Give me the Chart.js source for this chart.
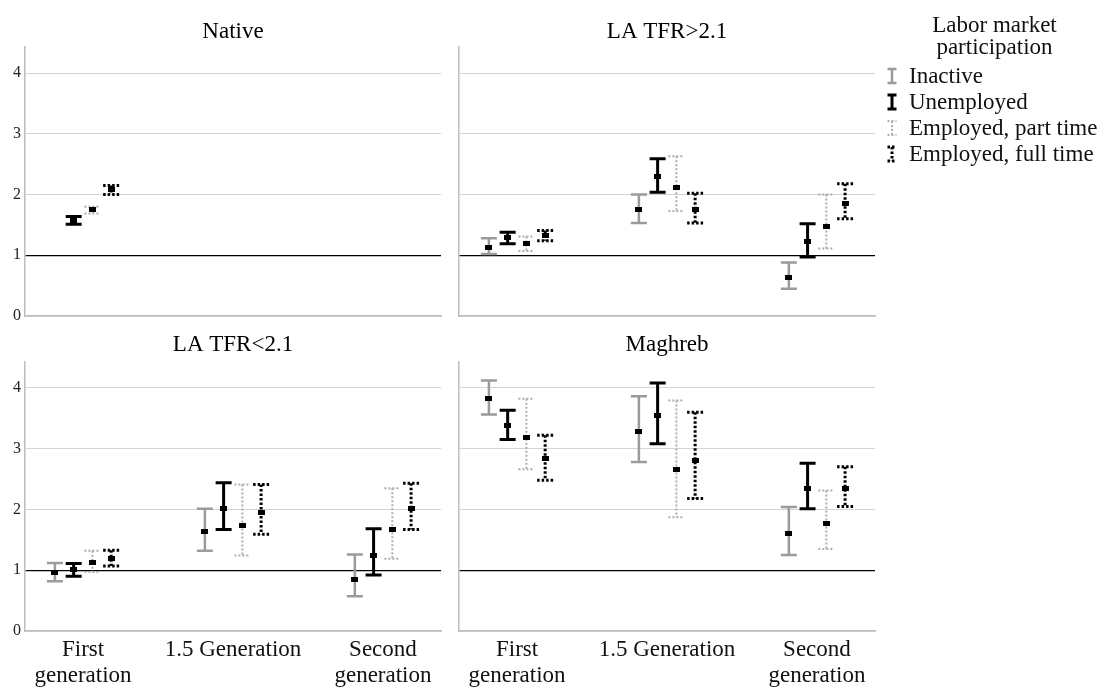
<!DOCTYPE html>
<html>
<head>
    <title>Labor market participation</title>
    <script src="https://cdn.jsdelivr.net/npm/chart.js"></script>
    <style>
        body { margin: 0; background: #fff; font-family: "Liberation Serif", serif; }
        #wrap { position: relative; width: 1105px; height: 688px; overflow: hidden; }
        canvas.panel { position: absolute; }
        #legend { position: absolute; left: 884px; top: 14px; width: 221px; color: #111; font-size: 23px; }
        #legend .head { text-align: center; line-height: 22px; margin-bottom: 5px; }
        #legend .item { display: flex; align-items: center; height: 26px; white-space: nowrap; }
        #legend .item canvas { margin-left: 2px; margin-right: 11px; }
    </style>
</head>
<body>
<div id="wrap">
    <canvas class="panel" id="p0" width="450" height="330" style="left:0;top:0"></canvas>
    <canvas class="panel" id="p1" width="440" height="330" style="left:445px;top:0"></canvas>
    <canvas class="panel" id="p2" width="450" height="368" style="left:0;top:320px"></canvas>
    <canvas class="panel" id="p3" width="440" height="368" style="left:445px;top:320px"></canvas>
    <div id="legend">
        <div class="head">Labor market<br>participation</div>
    </div>
</div>

<script>
    // categories
    const groups = ['Native', 'LA TFR>2.1', 'LA TFR<2.1', 'Maghreb'];
    const generations = [['First', 'generation'], '1.5 Generation', ['Second', 'generation']];
    const series = ['Inactive', 'Unemployed', 'Employed, part time', 'Employed, full time'];

    // rows = series (Inactive, Unemployed, part time, full time), cols = generations
    const nativeMean = [[null, null, null], [1.58, null, null], [1.75, null, null], [2.08, null, null]];
    const nativeLow  = [[null, null, null], [1.51, null, null], [1.69, null, null], [2.00, null, null]];
    const nativeHigh = [[null, null, null], [1.64, null, null], [1.80, null, null], [2.15, null, null]];

    const laHighMean = [[1.13, 1.75, 0.63], [1.29, 2.30, 1.22], [1.19, 2.12, 1.48], [1.33, 1.76, 1.86]];
    const laHighLow  = [[1.02, 1.53, 0.45], [1.19, 2.04, 0.97], [1.07, 1.73, 1.11], [1.24, 1.53, 1.60]];
    const laHighHigh = [[1.28, 2.00, 0.88], [1.38, 2.59, 1.52], [1.31, 2.63, 2.00], [1.41, 2.02, 2.18]];

    const laLowMean = [[0.96, 1.63, 0.85], [1.01, 2.01, 1.24], [1.13, 1.73, 1.67], [1.20, 1.95, 2.01]];
    const laLowLow  = [[0.82, 1.32, 0.57], [0.90, 1.67, 0.92], [0.97, 1.24, 1.19], [1.07, 1.59, 1.67]];
    const laLowHigh = [[1.12, 2.01, 1.26], [1.11, 2.44, 1.68], [1.32, 2.41, 2.35], [1.33, 2.41, 2.43]];

    const maghrebMean = [[3.83, 3.28, 1.60], [3.38, 3.54, 2.35], [3.19, 2.66, 1.77], [2.83, 2.80, 2.35]];
    const maghrebLow  = [[3.56, 2.78, 1.25], [3.15, 3.08, 2.01], [2.66, 1.87, 1.35], [2.48, 2.18, 2.05]];
    const maghrebHigh = [[4.12, 3.86, 2.04], [3.63, 4.08, 2.76], [3.82, 3.79, 2.31], [3.22, 3.60, 2.70]];

    const yTicks = [0, 1, 2, 3, 4];

    // look of each series' error bar
    const barStyles = [
        { color: '#9b9b9b', width: 2.5, dash: [] },
        { color: '#000000', width: 3, dash: [] },
        { color: '#adadad', width: 2, dash: [2, 2] },
        { color: '#000000', width: 3, dash: [2.5, 2] }
    ];
    const capHalf = 8;

    // small black mean marker
    const marker = document.createElement('canvas');
    marker.width = 7; marker.height = 5;
    marker.getContext('2d').fillRect(0, 0, 7, 5);

    const errorBars = {
        id: 'errorBars',
        beforeDatasetsDraw(chart) {
            const { ctx, scales: { x, y } } = chart;
            chart.data.datasets.forEach((ds, i) => {
                const st = barStyles[i];
                ctx.save();
                ctx.strokeStyle = st.color;
                ctx.lineWidth = st.width;
                ctx.setLineDash(st.dash);
                ds.data.forEach(p => {
                    const px = x.getPixelForValue(p.x);
                    const top = y.getPixelForValue(p.hi);
                    const bot = y.getPixelForValue(p.lo);
                    ctx.beginPath();
                    ctx.moveTo(px, top); ctx.lineTo(px, bot);
                    ctx.moveTo(px - capHalf, top); ctx.lineTo(px + capHalf, top);
                    ctx.moveTo(px - capHalf, bot); ctx.lineTo(px + capHalf, bot);
                    ctx.stroke();
                });
                ctx.restore();
            });
        }
    };

    function buildDatasets(mean, low, high) {
        return series.map((name, s) => {
            const data = [];
            mean[s].forEach((v, g) => {
                if (v === null) return;
                data.push({ x: g + (s - 1.5) * 0.125, y: v, lo: low[s][g], hi: high[s][g] });
            });
            return { label: name, data: data, pointStyle: marker, pointRadius: 4 };
        });
    }

    function makePanel(id, title, mean, low, high, left, bottom) {
        const ctx = document.getElementById(id).getContext('2d');
        const xHeight = bottom ? 57 : 14;
        const yWidth = left ? 25 : 14;
        const titlePad = bottom ? { top: 11.5, bottom: 2.6 } : { top: 18.5, bottom: 0.9 };
        return new Chart(ctx, {
            type: 'scatter',
            data: { datasets: buildDatasets(mean, low, high) },
            plugins: [errorBars],
            options: {
                responsive: false,
                animation: false,
                layout: { padding: { right: left ? 9 : 10, left: 0, top: 0, bottom: 0 } },
                plugins: {
                    legend: { display: false },
                    tooltip: { enabled: false },
                    title: {
                        display: true,
                        text: title,
                        fullSize: false,
                        color: '#000',
                        font: { family: 'Liberation Serif', size: 23, weight: 'normal', lineHeight: 1.2 },
                        padding: titlePad
                    }
                },
                scales: {
                    x: {
                        type: 'linear',
                        min: -0.387,
                        max: 2.387,
                        afterBuildTicks: axis => { axis.ticks = [0, 1, 2].map(v => ({ value: v })); },
                        afterFit: axis => { axis.height = xHeight; },
                        grid: { display: false, drawTicks: false },
                        border: { display: true, color: '#bdbdbd', width: 1.5 },
                        ticks: {
                            display: bottom,
                            maxRotation: 0,
                            autoSkip: false,
                            padding: 6,
                            color: '#111',
                            font: { family: 'Liberation Serif', size: 23, lineHeight: 1.13 },
                            callback: v => generations[v]
                        }
                    },
                    y: {
                        min: 0,
                        max: 4.43,
                        afterBuildTicks: axis => { axis.ticks = yTicks.map(v => ({ value: v })); },
                        afterFit: axis => { axis.width = yWidth; },
                        border: { display: true, color: '#bdbdbd', width: 1.5 },
                        grid: {
                            drawTicks: false,
                            color: c => c.tick && c.tick.value === 1 ? '#000000' : '#d4d4d4',
                            lineWidth: c => c.tick && c.tick.value === 1 ? 1.3 : 1
                        },
                        ticks: {
                            display: left,
                            padding: 4,
                            color: '#222',
                            font: { family: 'Liberation Serif', size: 16 }
                        }
                    }
                }
            }
        });
    }

    makePanel('p0', groups[0], nativeMean, nativeLow, nativeHigh, true, false);
    makePanel('p1', groups[1], laHighMean, laHighLow, laHighHigh, false, false);
    makePanel('p2', groups[2], laLowMean, laLowLow, laLowHigh, true, true);
    makePanel('p3', groups[3], maghrebMean, maghrebLow, maghrebHigh, false, true);

    // legend with small error bar glyphs
    const legend = document.getElementById('legend');
    series.forEach((name, i) => {
        const item = document.createElement('div');
        item.className = 'item';
        const icon = document.createElement('canvas');
        icon.width = 12; icon.height = 18;
        const c = icon.getContext('2d');
        const st = barStyles[i];
        c.strokeStyle = st.color;
        c.lineWidth = st.width;
        c.setLineDash(st.dash);
        c.beginPath();
        c.moveTo(6, 2); c.lineTo(6, 16);
        c.moveTo(1.5, 2); c.lineTo(10.5, 2);
        c.moveTo(1.5, 16); c.lineTo(10.5, 16);
        c.stroke();
        const label = document.createElement('span');
        label.textContent = name;
        item.appendChild(icon);
        item.appendChild(label);
        legend.appendChild(item);
    });
</script>
</body>
</html>
